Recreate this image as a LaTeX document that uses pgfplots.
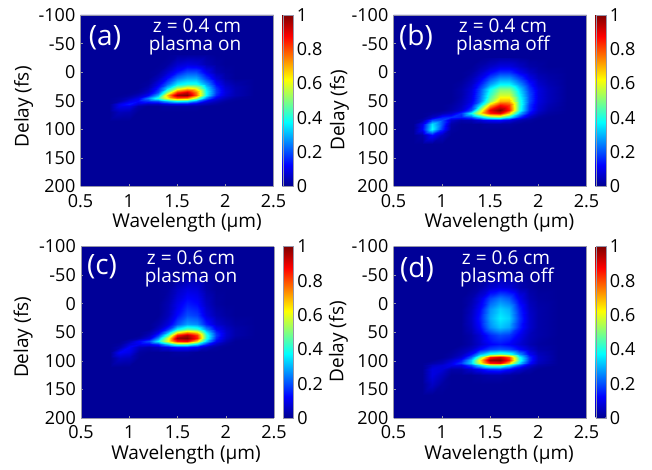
\documentclass[border=0pt]{standalone}
\usepackage{pgfplots}
\usepackage{fontspec}
\setmainfont{Open Sans}
\pgfplotsset{compat=1.18}
\definecolor{bgblue}{RGB}{0,0,152}
\definecolor{frameg}{RGB}{150,150,170}
\pgfplotsset{
 colormap={myjet}{rgb255(0cm)=(0,0,143); rgb255(1cm)=(0,0,255); rgb255(3cm)=(0,255,255); rgb255(5cm)=(255,255,0); rgb255(7cm)=(255,0,0); rgb255(8cm)=(128,0,0)},
 panel/.style={
  scale only axis, anchor=south west, width=193pt, height=171.5pt,
  view={0}{90}, y dir=reverse, xmin=0.5, xmax=2.5, ymin=-100, ymax=200,
  colormap name=myjet, point meta min=0, point meta max=1,
  axis background/.style={fill=bgblue},
  axis line style={frameg, line width=0.5pt},
  tick style={frameg, line width=0.4pt}, major tick length=2pt, tick pos=left,
  xtick={0.5,1,1.5,2,2.5}, xticklabels={0.5,1,1.5,2,2.5},
  ytick={-100,-50,0,50,100,150,200}, yticklabels={-100,-50,0,50,100,150,200},
  tick label style={font=\fontsize{18}{18}\selectfont, inner sep=0pt},
  xticklabel style={yshift=-7.5pt}, yticklabel style={xshift=-5pt},
  label style={font=\fontsize{19}{19}\selectfont},
  xlabel={Wavelength (µm)}, ylabel={Delay (fs)},
  colorbar,
  colorbar style={width=10pt, xshift=-12pt, ytick={0,0.2,0.4,0.6,0.8,1}, yticklabels={0,0.2,0.4,0.6,0.8,1},
    axis line style={frameg}, major tick length=0pt, y dir=normal,
    yticklabel style={xshift=4pt}, tick label style={font=\fontsize{18}{18}\selectfont, inner sep=0pt}},
 }
}
\newcommand\annot[1]{\fontsize{#1}{#1}\selectfont}
\begin{document}
\begin{tikzpicture}[x=1pt,y=1pt]
\path[use as bounding box] (0,0) rectangle (652,470);
\begin{axis}[panel, at={(80.5pt,283.5pt)}, x label style={at={(axis description cs:0.552,-0.213)},anchor=center}, y label style={at={(axis description cs:-0.294,0.464)},anchor=center}]
\addplot3[surf, shader=interp, mesh/rows=14] table[row sep=newline] {
.8 -30 .01
.9 -30 .01
1 -30 .01
1.1 -30 .01
1.2 -30 .01
1.3 -30 .01
1.4 -30 .01
1.5 -30 .02
1.6 -30 .02
1.7 -30 .02
1.8 -30 .02
1.9 -30 .01
2 -30 .01
2.1 -30 .01
2.3 -30 .01
.8 -15 .01
.9 -15 .01
1 -15 .01
1.1 -15 .01
1.2 -15 .01
1.3 -15 .01
1.4 -15 .02
1.5 -15 .07
1.6 -15 .09
1.7 -15 .08
1.8 -15 .04
1.9 -15 .02
2 -15 .01
2.1 -15 .01
2.3 -15 .01
.8 0 .01
.9 0 .01
1 0 .01
1.1 0 .01
1.2 0 .01
1.3 0 .02
1.4 0 .07
1.5 0 .14
1.6 0 .2
1.7 0 .2
1.8 0 .11
1.9 0 .04
2 0 .02
2.1 0 .01
2.3 0 .01
.8 10 .01
.9 10 .01
1 10 .01
1.1 10 .01
1.2 10 .01
1.3 10 .05
1.4 10 .13
1.5 10 .24
1.6 10 .29
1.7 10 .29
1.8 10 .18
1.9 10 .08
2 10 .03
2.1 10 .01
2.3 10 .01
.8 20 .01
.9 20 .01
1 20 .01
1.1 20 .01
1.2 20 .02
1.3 20 .1
1.4 20 .22
1.5 20 .36
1.6 20 .4
1.7 20 .4
1.8 20 .28
1.9 20 .13
2 20 .06
2.1 20 .03
2.3 20 .01
.8 28 .01
.9 28 .01
1 28 .01
1.1 28 .01
1.2 28 .04
1.3 28 .15
1.4 28 .33
1.5 28 .55
1.6 28 .65
1.7 28 .6
1.8 28 .35
1.9 28 .17
2 28 .08
2.1 28 .04
2.3 28 .01
.8 34 .01
.9 34 .01
1 34 .01
1.1 34 .02
1.2 34 .07
1.3 34 .2
1.4 34 .5
1.5 34 .82
1.6 34 .92
1.7 34 .75
1.8 34 .38
1.9 34 .18
2 34 .09
2.1 34 .04
2.3 34 .01
.8 40 .01
.9 40 .01
1 40 .02
1.1 40 .05
1.2 40 .12
1.3 40 .3
1.4 40 .68
1.5 40 .97
1.6 40 1
1.7 40 .78
1.8 40 .38
1.9 40 .16
2 40 .08
2.1 40 .04
2.3 40 .01
.8 46 .01
.9 46 .02
1 46 .05
1.1 46 .1
1.2 46 .25
1.3 46 .42
1.4 46 .62
1.5 46 .78
1.6 46 .75
1.7 46 .55
1.8 46 .25
1.9 46 .1
2 46 .05
2.1 46 .02
2.3 46 .01
.8 50 .01
.9 50 .03
1 50 .1
1.1 50 .13
1.2 50 .17
1.3 50 .2
1.4 50 .3
1.5 50 .38
1.6 50 .36
1.7 50 .25
1.8 50 .1
1.9 50 .05
2 50 .02
2.1 50 .01
2.3 50 .01
.8 55 .01
.9 55 .1
1 55 .15
1.1 55 .08
1.2 55 .05
1.3 55 .05
1.4 55 .08
1.5 55 .1
1.6 55 .1
1.7 55 .07
1.8 55 .04
1.9 55 .02
2 55 .01
2.1 55 .01
2.3 55 .01
.8 60 .01
.9 60 .1
1 60 .1
1.1 60 .03
1.2 60 .01
1.3 60 .01
1.4 60 .02
1.5 60 .02
1.6 60 .02
1.7 60 .02
1.8 60 .01
1.9 60 .01
2 60 .01
2.1 60 .01
2.3 60 .01
.8 70 .01
.9 70 .05
1 70 .04
1.1 70 .01
1.2 70 .01
1.3 70 .01
1.4 70 .01
1.5 70 .01
1.6 70 .01
1.7 70 .01
1.8 70 .01
1.9 70 .01
2 70 .01
2.1 70 .01
2.3 70 .01
.8 85 .01
.9 85 .01
1 85 .01
1.1 85 .01
1.2 85 .01
1.3 85 .01
1.4 85 .01
1.5 85 .01
1.6 85 .01
1.7 85 .01
1.8 85 .01
1.9 85 .01
2 85 .01
2.1 85 .01
2.3 85 .01
};
\end{axis}
\begin{axis}[panel, at={(393.5pt,283.5pt)}, x label style={at={(axis description cs:0.549,-0.213)},anchor=center}, y label style={at={(axis description cs:-0.28,0.446)},anchor=center}]
\addplot3[surf, shader=interp, mesh/rows=17] table[row sep=newline] {
.7 -25 .01
.8 -25 .01
.9 -25 .01
1 -25 .01
1.1 -25 .01
1.2 -25 .01
1.3 -25 .01
1.4 -25 .01
1.5 -25 .02
1.6 -25 .03
1.7 -25 .03
1.8 -25 .02
1.9 -25 .01
2 -25 .01
2.1 -25 .01
2.3 -25 .01
.7 -10 .01
.8 -10 .01
.9 -10 .01
1 -10 .01
1.1 -10 .01
1.2 -10 .01
1.3 -10 .01
1.4 -10 .03
1.5 -10 .06
1.6 -10 .09
1.7 -10 .09
1.8 -10 .06
1.9 -10 .03
2 -10 .02
2.1 -10 .01
2.3 -10 .01
.7 0 .01
.8 0 .01
.9 0 .01
1 0 .01
1.1 0 .01
1.2 0 .01
1.3 0 .02
1.4 0 .06
1.5 0 .12
1.6 0 .17
1.7 0 .17
1.8 0 .11
1.9 0 .06
2 0 .03
2.1 0 .02
2.3 0 .01
.7 10 .01
.8 10 .01
.9 10 .01
1 10 .01
1.1 10 .01
1.2 10 .01
1.3 10 .04
1.4 10 .1
1.5 10 .2
1.6 10 .27
1.7 10 .27
1.8 10 .19
1.9 10 .1
2 10 .05
2.1 10 .03
2.3 10 .01
.7 20 .01
.8 20 .01
.9 20 .01
1 20 .01
1.1 20 .01
1.2 20 .02
1.3 20 .06
1.4 20 .15
1.5 20 .28
1.6 20 .37
1.7 20 .37
1.8 20 .27
1.9 20 .15
2 20 .07
2.1 20 .04
2.3 20 .01
.7 30 .01
.8 30 .01
.9 30 .01
1 30 .01
1.1 30 .01
1.2 30 .03
1.3 30 .08
1.4 30 .2
1.5 30 .38
1.6 30 .5
1.7 30 .5
1.8 30 .34
1.9 30 .18
2 30 .09
2.1 30 .05
2.3 30 .01
.7 40 .01
.8 40 .01
.9 40 .01
1 40 .01
1.1 40 .01
1.2 40 .03
1.3 40 .09
1.4 40 .22
1.5 40 .43
1.6 40 .58
1.7 40 .58
1.8 40 .38
1.9 40 .2
2 40 .09
2.1 40 .05
2.3 40 .01
.7 50 .01
.8 50 .01
.9 50 .01
1 50 .01
1.1 50 .01
1.2 50 .04
1.3 50 .1
1.4 50 .24
1.5 50 .5
1.6 50 .7
1.7 50 .7
1.8 50 .42
1.9 50 .2
2 50 .09
2.1 50 .05
2.3 50 .01
.7 58 .01
.8 58 .01
.9 58 .01
1 58 .01
1.1 58 .02
1.2 58 .05
1.3 58 .13
1.4 58 .35
1.5 58 .7
1.6 58 .87
1.7 58 .82
1.8 58 .43
1.9 58 .18
2 58 .08
2.1 58 .04
2.3 58 .01
.7 66 .01
.8 66 .01
.9 66 .01
1 66 .01
1.1 66 .03
1.2 66 .07
1.3 66 .2
1.4 66 .55
1.5 66 .9
1.6 66 1
1.7 66 .85
1.8 66 .42
1.9 66 .17
2 66 .07
2.1 66 .03
2.3 66 .01
.7 72 .01
.8 72 .01
.9 72 .02
1 72 .04
1.1 72 .07
1.2 72 .17
1.3 72 .38
1.4 72 .63
1.5 72 .85
1.6 72 .9
1.7 72 .68
1.8 72 .32
1.9 72 .13
2 72 .05
2.1 72 .02
2.3 72 .01
.7 78 .01
.8 78 .01
.9 78 .06
1 78 .15
1.1 78 .17
1.2 78 .15
1.3 78 .2
1.4 78 .33
1.5 78 .47
1.6 78 .5
1.7 78 .37
1.8 78 .17
1.9 78 .06
2 78 .02
2.1 78 .01
2.3 78 .01
.7 84 .01
.8 84 .03
.9 84 .2
1 84 .2
1.1 84 .07
1.2 84 .03
1.3 84 .04
1.4 84 .08
1.5 84 .12
1.6 84 .13
1.7 84 .09
1.8 84 .04
1.9 84 .02
2 84 .01
2.1 84 .01
2.3 84 .01
.7 90 .01
.8 90 .1
.9 90 .35
1 90 .2
1.1 90 .03
1.2 90 .01
1.3 90 .01
1.4 90 .01
1.5 90 .02
1.6 90 .02
1.7 90 .02
1.8 90 .01
1.9 90 .01
2 90 .01
2.1 90 .01
2.3 90 .01
.7 100 .01
.8 100 .12
.9 100 .38
1 100 .17
1.1 100 .02
1.2 100 .01
1.3 100 .01
1.4 100 .01
1.5 100 .01
1.6 100 .01
1.7 100 .01
1.8 100 .01
1.9 100 .01
2 100 .01
2.1 100 .01
2.3 100 .01
.7 110 .01
.8 110 .03
.9 110 .13
1 110 .05
1.1 110 .01
1.2 110 .01
1.3 110 .01
1.4 110 .01
1.5 110 .01
1.6 110 .01
1.7 110 .01
1.8 110 .01
1.9 110 .01
2 110 .01
2.1 110 .01
2.3 110 .01
.7 125 .01
.8 125 .01
.9 125 .01
1 125 .01
1.1 125 .01
1.2 125 .01
1.3 125 .01
1.4 125 .01
1.5 125 .01
1.6 125 .01
1.7 125 .01
1.8 125 .01
1.9 125 .01
2 125 .01
2.1 125 .01
2.3 125 .01
};
\end{axis}
\begin{axis}[panel, at={(81pt,52pt)}, x label style={at={(axis description cs:0.544,-0.215)},anchor=center}, y label style={at={(axis description cs:-0.30,0.47)},anchor=center}]
\addplot3[surf, shader=interp, mesh/rows=15] table[row sep=newline] {
.8 -50 .01
.9 -50 .01
1 -50 .01
1.1 -50 .01
1.2 -50 .01
1.3 -50 .01
1.4 -50 .01
1.5 -50 .01
1.6 -50 .02
1.7 -50 .02
1.8 -50 .01
1.9 -50 .01
2 -50 .01
2.1 -50 .01
2.3 -50 .01
.8 -25 .01
.9 -25 .01
1 -25 .01
1.1 -25 .01
1.2 -25 .01
1.3 -25 .01
1.4 -25 .02
1.5 -25 .06
1.6 -25 .09
1.7 -25 .08
1.8 -25 .03
1.9 -25 .01
2 -25 .01
2.1 -25 .01
2.3 -25 .01
.8 0 .01
.9 0 .01
1 0 .01
1.1 0 .01
1.2 0 .01
1.3 0 .01
1.4 0 .04
1.5 0 .1
1.6 0 .15
1.7 0 .13
1.8 0 .06
1.9 0 .02
2 0 .01
2.1 0 .01
2.3 0 .01
.8 20 .01
.9 20 .01
1 20 .01
1.1 20 .01
1.2 20 .01
1.3 20 .01
1.4 20 .05
1.5 20 .13
1.6 20 .2
1.7 20 .18
1.8 20 .09
1.9 20 .04
2 20 .02
2.1 20 .01
2.3 20 .01
.8 35 .01
.9 35 .01
1 35 .01
1.1 35 .01
1.2 35 .01
1.3 35 .03
1.4 35 .09
1.5 35 .2
1.6 35 .28
1.7 35 .26
1.8 35 .15
1.9 35 .07
2 35 .04
2.1 35 .02
2.3 35 .01
.8 45 .01
.9 45 .01
1 45 .01
1.1 45 .01
1.2 45 .01
1.3 45 .06
1.4 45 .18
1.5 45 .37
1.6 45 .47
1.7 45 .43
1.8 45 .26
1.9 45 .12
2 45 .06
2.1 45 .03
2.3 45 .01
.8 50 .01
.9 50 .01
1 50 .01
1.1 50 .01
1.2 50 .03
1.3 50 .1
1.4 50 .3
1.5 50 .6
1.6 50 .72
1.7 50 .65
1.8 50 .36
1.9 50 .16
2 50 .07
2.1 50 .03
2.3 50 .01
.8 55 .01
.9 55 .01
1 55 .01
1.1 55 .01
1.2 55 .05
1.3 55 .17
1.4 55 .45
1.5 55 .85
1.6 55 .95
1.7 55 .82
1.8 55 .42
1.9 55 .18
2 55 .07
2.1 55 .03
2.3 55 .01
.8 60 .01
.9 60 .01
1 60 .01
1.1 60 .03
1.2 60 .09
1.3 60 .27
1.4 60 .6
1.5 60 .97
1.6 60 1
1.7 60 .85
1.8 60 .42
1.9 60 .16
2 60 .06
2.1 60 .02
2.3 60 .01
.8 65 .01
.9 65 .01
1 65 .04
1.1 65 .12
1.2 65 .2
1.3 65 .37
1.4 65 .62
1.5 65 .85
1.6 65 .88
1.7 65 .66
1.8 65 .33
1.9 65 .12
2 65 .04
2.1 65 .01
2.3 65 .01
.8 70 .01
.9 70 .02
1 70 .08
1.1 70 .11
1.2 70 .12
1.3 70 .17
1.4 70 .33
1.5 70 .47
1.6 70 .47
1.7 70 .35
1.8 70 .17
1.9 70 .06
2 70 .02
2.1 70 .01
2.3 70 .01
.8 75 .01
.9 75 .04
1 75 .12
1.1 75 .05
1.2 75 .03
1.3 75 .05
1.4 75 .1
1.5 75 .15
1.6 75 .15
1.7 75 .11
1.8 75 .05
1.9 75 .02
2 75 .01
2.1 75 .01
2.3 75 .01
.8 85 .01
.9 85 .12
1 85 .1
1.1 85 .02
1.2 85 .01
1.3 85 .01
1.4 85 .01
1.5 85 .02
1.6 85 .02
1.7 85 .01
1.8 85 .01
1.9 85 .01
2 85 .01
2.1 85 .01
2.3 85 .01
.8 95 .01
.9 95 .06
1 95 .05
1.1 95 .01
1.2 95 .01
1.3 95 .01
1.4 95 .01
1.5 95 .01
1.6 95 .01
1.7 95 .01
1.8 95 .01
1.9 95 .01
2 95 .01
2.1 95 .01
2.3 95 .01
.8 110 .01
.9 110 .01
1 110 .01
1.1 110 .01
1.2 110 .01
1.3 110 .01
1.4 110 .01
1.5 110 .01
1.6 110 .01
1.7 110 .01
1.8 110 .01
1.9 110 .01
2 110 .01
2.1 110 .01
2.3 110 .01
};
\end{axis}
\begin{axis}[panel, at={(393.5pt,52pt)}, x label style={at={(axis description cs:0.547,-0.216)},anchor=center}, y label style={at={(axis description cs:-0.286,0.444)},anchor=center}]
\addplot3[surf, shader=interp, mesh/rows=18] table[row sep=newline] {
.8 -50 .01
.9 -50 .01
1 -50 .01
1.1 -50 .01
1.2 -50 .01
1.3 -50 .01
1.4 -50 .01
1.5 -50 .02
1.6 -50 .03
1.7 -50 .02
1.8 -50 .01
1.9 -50 .01
2 -50 .01
2.2 -50 .01
.8 -30 .01
.9 -30 .01
1 -30 .01
1.1 -30 .01
1.2 -30 .01
1.3 -30 .01
1.4 -30 .03
1.5 -30 .07
1.6 -30 .09
1.7 -30 .08
1.8 -30 .04
1.9 -30 .02
2 -30 .01
2.2 -30 .01
.8 -10 .01
.9 -10 .01
1 -10 .01
1.1 -10 .01
1.2 -10 .01
1.3 -10 .03
1.4 -10 .09
1.5 -10 .19
1.6 -10 .24
1.7 -10 .21
1.8 -10 .11
1.9 -10 .04
2 -10 .02
2.2 -10 .01
.8 10 .01
.9 10 .01
1 10 .01
1.1 10 .01
1.2 10 .01
1.3 10 .05
1.4 10 .13
1.5 10 .27
1.6 10 .33
1.7 10 .3
1.8 10 .16
1.9 10 .06
2 10 .03
2.2 10 .01
.8 25 .01
.9 25 .01
1 25 .01
1.1 25 .01
1.2 25 .01
1.3 25 .06
1.4 25 .15
1.5 25 .29
1.6 25 .36
1.7 25 .33
1.8 25 .18
1.9 25 .07
2 25 .03
2.2 25 .01
.8 40 .01
.9 40 .01
1 40 .01
1.1 40 .01
1.2 40 .01
1.3 40 .05
1.4 40 .13
1.5 40 .26
1.6 40 .32
1.7 40 .29
1.8 40 .16
1.9 40 .07
2 40 .03
2.2 40 .01
.8 55 .01
.9 55 .01
1 55 .01
1.1 55 .01
1.2 55 .01
1.3 55 .03
1.4 55 .08
1.5 55 .16
1.6 55 .2
1.7 55 .18
1.8 55 .11
1.9 55 .05
2 55 .03
2.2 55 .01
.8 70 .01
.9 70 .01
1 70 .01
1.1 70 .01
1.2 70 .01
1.3 70 .03
1.4 70 .07
1.5 70 .12
1.6 70 .14
1.7 70 .12
1.8 70 .08
1.9 70 .04
2 70 .02
2.2 70 .01
.8 80 .01
.9 80 .01
1 80 .01
1.1 80 .01
1.2 80 .03
1.3 80 .06
1.4 80 .13
1.5 80 .19
1.6 80 .21
1.7 80 .19
1.8 80 .13
1.9 80 .07
2 80 .03
2.2 80 .01
.8 88 .01
.9 88 .01
1 88 .01
1.1 88 .02
1.2 88 .05
1.3 88 .13
1.4 88 .3
1.5 88 .42
1.6 88 .46
1.7 88 .42
1.8 88 .27
1.9 88 .12
2 88 .05
2.2 88 .01
.8 93 .01
.9 93 .01
1 93 .01
1.1 93 .03
1.2 93 .08
1.3 93 .22
1.4 93 .5
1.5 93 .85
1.6 93 .92
1.7 93 .8
1.8 93 .4
1.9 93 .17
2 93 .06
2.2 93 .01
.8 98 .01
.9 98 .01
1 98 .03
1.1 98 .07
1.2 98 .14
1.3 98 .32
1.4 98 .65
1.5 98 .98
1.6 98 1
1.7 98 .85
1.8 98 .43
1.9 98 .17
2 98 .06
2.2 98 .01
.8 103 .01
.9 103 .03
1 103 .05
1.1 103 .1
1.2 103 .18
1.3 103 .33
1.4 103 .6
1.5 103 .85
1.6 103 .88
1.7 103 .68
1.8 103 .35
1.9 103 .14
2 103 .05
2.2 103 .01
.8 108 .01
.9 108 .06
1 108 .08
1.1 108 .1
1.2 108 .1
1.3 108 .2
1.4 108 .35
1.5 108 .5
1.6 108 .5
1.7 108 .37
1.8 108 .2
1.9 108 .08
2 108 .03
2.2 108 .01
.8 115 .01
.9 115 .09
1 115 .08
1.1 115 .03
1.2 115 .03
1.3 115 .07
1.4 115 .12
1.5 115 .17
1.6 115 .18
1.7 115 .13
1.8 115 .07
1.9 115 .03
2 115 .01
2.2 115 .01
.8 125 .01
.9 125 .09
1 125 .05
1.1 125 .01
1.2 125 .01
1.3 125 .01
1.4 125 .02
1.5 125 .03
1.6 125 .03
1.7 125 .02
1.8 125 .01
1.9 125 .01
2 125 .01
2.2 125 .01
.8 140 .01
.9 140 .06
1 140 .02
1.1 140 .01
1.2 140 .01
1.3 140 .01
1.4 140 .01
1.5 140 .01
1.6 140 .01
1.7 140 .01
1.8 140 .01
1.9 140 .01
2 140 .01
2.2 140 .01
.8 160 .01
.9 160 .01
1 160 .01
1.1 160 .01
1.2 160 .01
1.3 160 .01
1.4 160 .01
1.5 160 .01
1.6 160 .01
1.7 160 .01
1.8 160 .01
1.9 160 .01
2 160 .01
2.2 160 .01
};
\end{axis}
\tikzset{ann/.style={white,font=\annot{19},anchor=base,inner sep=0pt}, lab/.style={white,font=\annot{28},inner sep=0pt}}
\node[lab] at (105,432) {(a)};
\node[ann] at (197,437) {z = 0.4 cm};
\node[ann] at (195,419.5) {plasma on};
\node[lab] at (416,433) {(b)};
\node[ann] at (503,437) {z = 0.4 cm};
\node[ann] at (503,419.5) {plasma off};
\node[lab] at (102,203) {(c)};
\node[ann] at (191,205.5) {z = 0.6 cm};
\node[ann] at (191,187.5) {plasma on};
\node[lab] at (417,201) {(d)};
\node[ann] at (506,205.5) {z = 0.6 cm};
\node[ann] at (507,187.5) {plasma off};
\end{tikzpicture}
\end{document}
